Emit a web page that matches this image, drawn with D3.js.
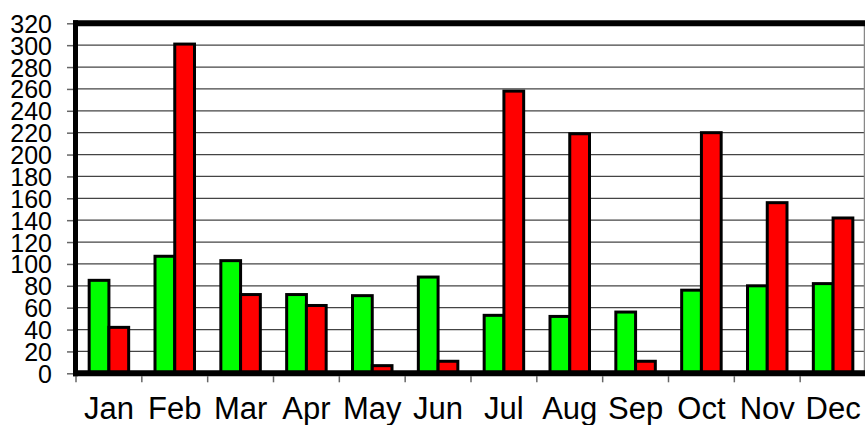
<!DOCTYPE html>
<html><head><meta charset="utf-8">
<script src="https://cdn.jsdelivr.net/npm/d3@7"></script>
<style>body{margin:0;background:#fff}svg{display:block}</style>
</head><body>
<script>
const months = ["Jan","Feb","Mar","Apr","May","Jun","Jul","Aug","Sep","Oct","Nov","Dec"];
const greenValues = [85,107,103,72,71,88,53,52,56,76,80,82];
const redValues = [42,301,72,62,7,11,258,219,11,220,156,142];
const yTicks = d3.range(0, 321, 20);

(function () {
const W = 865, H = 425;
const svg = d3.select("body").append("svg").attr("width", W).attr("height", H);
const pL = 76, pR = 866, pT = 23.3, pB = 373.3;

const x = d3.scaleBand().domain(months).range([pL, pR]).padding(0);
const y = d3.scaleLinear().domain([0, 320]).range([pB, pT]);
const gw = x.bandwidth() * 0.6;
const x1 = d3.scaleBand().domain(["g","r"]).range([0, gw]).padding(0);

// gridlines
svg.append("g").selectAll("line").data(yTicks.slice(1, -1)).join("line")
  .attr("x1", pL).attr("x2", W).attr("y1", d => y(d)).attr("y2", d => y(d))
  .attr("stroke", "#444").attr("stroke-width", 1.2);

// right border
svg.append("line").attr("x1", 864.5).attr("x2", 864.5).attr("y1", pT).attr("y2", pB)
  .attr("stroke", "#888").attr("stroke-width", 1.5);

// y axis ticks and labels
const yAxis = d3.axisLeft(y).tickValues(yTicks).tickSize(6).tickPadding(15);
const ya = svg.append("g").attr("transform", `translate(${pL-3},0)`).call(yAxis);
ya.select(".domain").remove();
ya.selectAll(".tick line").attr("stroke", "#666").attr("stroke-width", 1.5);
ya.selectAll(".tick text").attr("font-family", "Liberation Sans, Arial, sans-serif")
  .attr("font-size", 25).attr("fill", "#000").attr("dy", "0.36em");

// bars
const groups = svg.append("g").selectAll("g").data(months).join("g")
  .attr("transform", d => `translate(${x(d) + (x.bandwidth() - gw) / 2},0)`);
groups.append("rect")
  .attr("x", x1("g")).attr("width", x1.bandwidth())
  .attr("y", (d, i) => y(greenValues[i])).attr("height", (d, i) => pB - y(greenValues[i]))
  .attr("fill", "#00ff00").attr("stroke", "#000").attr("stroke-width", 3);
groups.append("rect")
  .attr("x", x1("r")).attr("width", x1.bandwidth())
  .attr("y", (d, i) => y(redValues[i])).attr("height", (d, i) => pB - y(redValues[i]))
  .attr("fill", "#ff0000").attr("stroke", "#000").attr("stroke-width", 3);

// x axis
const xa = svg.append("g").attr("transform", `translate(0,${pB})`)
  .call(d3.axisBottom(x).tickSize(0).tickPadding(24));
xa.select(".domain").remove();
xa.selectAll(".tick text").attr("font-family", "Liberation Sans, Arial, sans-serif")
  .attr("font-size", 31).attr("fill", "#000");
// boundary ticks
svg.append("g").selectAll("line").data(months).join("line")
  .attr("x1", d => x(d)).attr("x2", d => x(d)).attr("y1", pB + 3).attr("y2", pB + 9)
  .attr("stroke", "#666").attr("stroke-width", 1.5);

// frame: thick top, left, bottom
svg.append("line").attr("x1", pL - 3).attr("x2", W).attr("y1", pT).attr("y2", pT)
  .attr("stroke", "#000").attr("stroke-width", 6);
svg.append("line").attr("x1", pL - 0.5).attr("x2", pL - 0.5).attr("y1", pT - 3).attr("y2", pB + 3)
  .attr("stroke", "#000").attr("stroke-width", 5);
svg.append("line").attr("x1", pL - 3).attr("x2", W).attr("y1", pB).attr("y2", pB)
  .attr("stroke", "#000").attr("stroke-width", 6);
})();
</script>
</body></html>
